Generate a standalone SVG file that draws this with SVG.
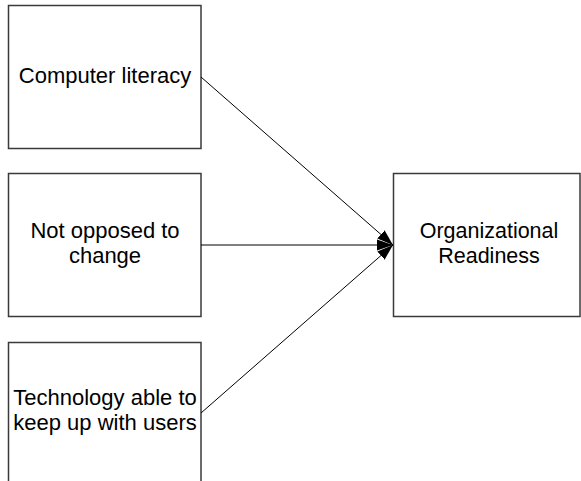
<svg xmlns="http://www.w3.org/2000/svg" width="581" height="481" viewBox="0 0 581 481">
<style>
.box{fill:#fff;stroke:#3a3a3a;stroke-width:1.5}
.lbl{font-family:"Liberation Sans",Arial,sans-serif;font-size:22px;fill:#000;text-anchor:middle}
.conn{stroke:#000;stroke-width:1;fill:none}
</style>
<defs>
<marker id="arr" markerUnits="userSpaceOnUse" markerWidth="17" markerHeight="13" refX="16" refY="6" orient="auto">
<path d="M0,0.5 L16,6 L0,11.5 Z" fill="#000"/>
</marker>
</defs>
<rect width="581" height="481" fill="#fff"/>
<g id="n1">
<rect class="box" x="8.5" y="5.5" width="192.5" height="143"/>
<text class="lbl" x="105" y="83">Computer literacy</text>
</g>
<g id="n2">
<rect class="box" x="8.5" y="173.5" width="192.5" height="143"/>
<text class="lbl" x="105" y="238">Not opposed to</text>
<text class="lbl" x="105" y="263">change</text>
</g>
<g id="n3">
<rect class="box" x="8.5" y="342.5" width="192.5" height="143"/>
<text class="lbl" x="105" y="405">Technology able to</text>
<text class="lbl" x="105" y="430">keep up with users</text>
</g>
<g id="n4">
<rect class="box" x="393.5" y="173.5" width="186.5" height="143"/>
<text class="lbl" x="489" y="238" style="font-size:21.5px">Organizational</text>
<text class="lbl" x="489" y="263" style="font-size:21.5px">Readiness</text>
</g>
<g id="connectors">
<line class="conn" x1="201" y1="77" x2="393" y2="245" marker-end="url(#arr)"/>
<line class="conn" x1="201" y1="245" x2="393" y2="245" marker-end="url(#arr)"/>
<line class="conn" x1="201" y1="413" x2="393" y2="245" marker-end="url(#arr)"/>
</g>
</svg>
